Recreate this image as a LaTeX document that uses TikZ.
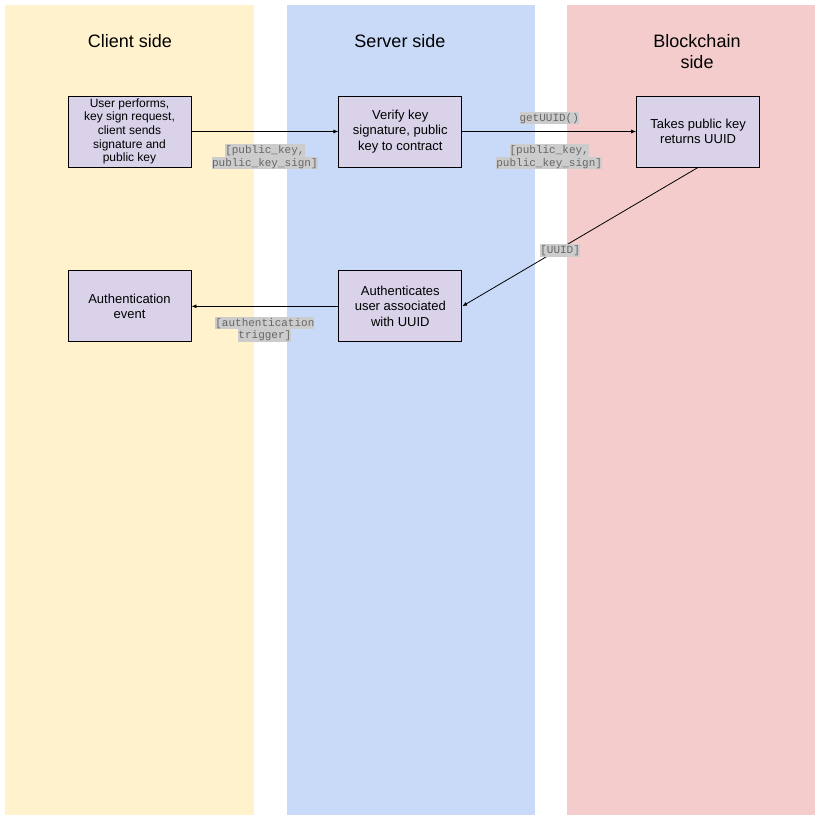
\documentclass[tikz,border=0pt]{standalone}
\usepackage{fontspec}
\setmainfont{Liberation Sans}
\setmonofont{Liberation Mono}
\usepackage{xcolor}
\usepackage{tikz}
\usetikzlibrary{arrows.meta,positioning}
\definecolor{clientbg}{HTML}{FFF2CC}
\definecolor{serverbg}{HTML}{C9DAF8}
\definecolor{chainbg}{HTML}{F4CCCC}
\definecolor{boxfill}{HTML}{D9D2E9}
\definecolor{msgbg}{HTML}{CCCCCC}
\definecolor{msgtext}{HTML}{666666}
\newcommand{\hlline}[1]{{\setlength{\fboxsep}{0pt}\colorbox{msgbg}{\rule[-3.2pt]{0pt}{12.7pt}#1}}}
\tikzset{
  >={Latex[length=5pt,width=4pt]},
  title/.style={font=\fontsize{18}{21}\selectfont, align=center},
  action/.style={draw, line width=0.8pt, fill=boxfill, minimum width=123pt, minimum height=71pt, inner sep=2pt, align=center, font=\fontsize{13}{15.5}\selectfont},
  msg/.style={inner sep=0pt, align=center, text=msgtext, font=\ttfamily\fontsize{11}{12.7}\selectfont},
  conn/.style={->, line width=0.8pt},
}

\begin{document}
\begin{tikzpicture}[x=1pt,y=-1pt]
    \useasboundingbox (0,0) rectangle (821,829);
    % lanes
    \fill[clientbg] (5,5) rectangle (254,815);
    \fill[serverbg] (287,5) rectangle (535,815);
    \fill[chainbg]  (567,5) rectangle (815,815);
    \node[title] (tclient) at (130,41) {Client side};
    \node[title] (tserver) at (400,41) {Server side};
    \node[title] (tchain)  at (697,52) {Blockchain\\side};

    % nodes
    \node[action, font=\fontsize{12}{13.7}\selectfont] (request) at (129.5,131.5)
      {User performs,\\key sign request,\\client sends\\signature and\\public key};
    \node[action, right=147pt of request] (verify) {Verify key\\signature, public\\key to contract};
    \node[action, right=174pt of verify]  (lookup) {Takes public key\\returns UUID};
    \node[action, below=103pt of verify]  (auth)   {Authenticates\\user associated\\with UUID};
    \node[action, below=103pt of request] (event)  {Authentication\\event};

    % arrows with labels
    \draw[conn] (request) -- node[msg, below=12pt] {\hlline{[public\_key,}\\\hlline{public\_key\_sign]}} (verify);
    \draw[conn] (verify) -- node[msg, above=6.6pt] {\hlline{getUUID()}}
      node[msg, below=12pt] {\hlline{[public\_key,}\\\hlline{public\_key\_sign]}} (lookup);
    \draw[conn] (lookup.south) -- node[msg, pos=0.585, yshift=-1.5pt] {\hlline{[UUID]}} (auth.east);
    \draw[conn] (auth) -- node[msg, below=10pt] {\hlline{[authentication}\\\hlline{trigger]}} (event);
  \end{tikzpicture}
\end{document}
